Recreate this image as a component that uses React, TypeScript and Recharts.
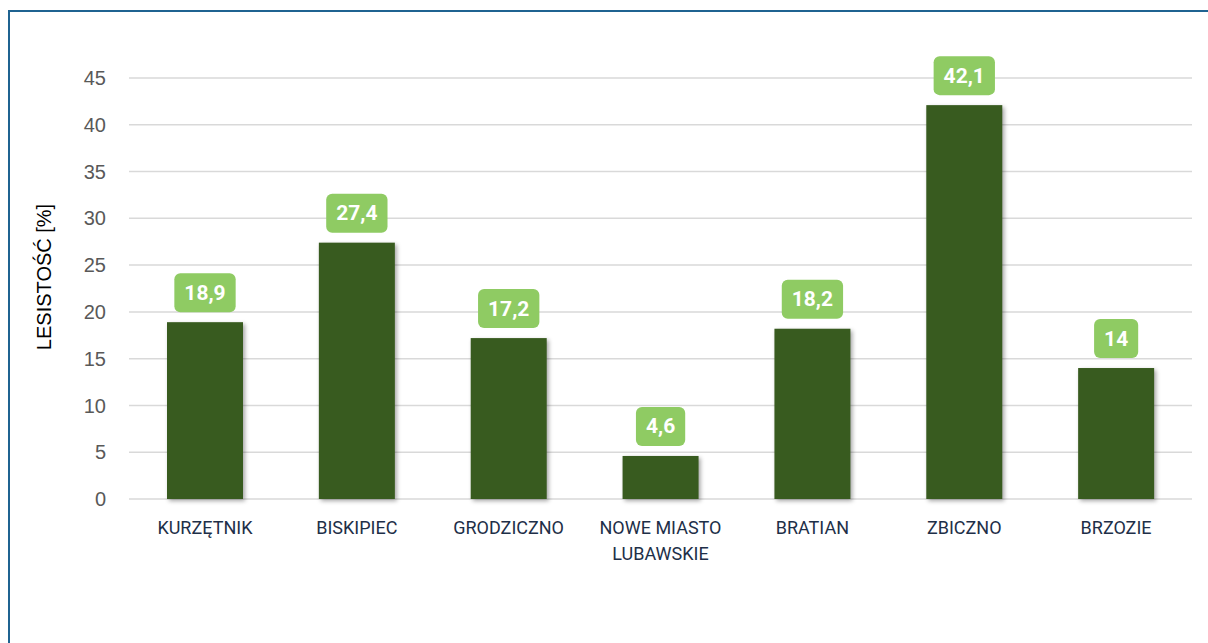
import React from 'react';
import { BarChart, Bar, XAxis, YAxis, CartesianGrid, LabelList } from 'recharts';

const categories = ['KURZĘTNIK', 'BISKIPIEC', 'GRODZICZNO', 'NOWE MIASTO LUBAWSKIE', 'BRATIAN', 'ZBICZNO', 'BRZOZIE'];
const values = [18.9, 27.4, 17.2, 4.6, 18.2, 42.1, 14];
const yTicks = [0, 5, 10, 15, 20, 25, 30, 35, 40, 45];
const yTitle = 'LESISTOŚĆ [%]';

const data = categories.map((name, i) => ({ name, value: values[i] }));

const LABEL_FONT = 'bold 21px Roboto';
let ctx: CanvasRenderingContext2D | null = null;
function measure(text: string): number {
  if (!ctx) {
    const c = document.createElement('canvas');
    ctx = c.getContext('2d');
  }
  if (!ctx) return text.length * 11;
  ctx.font = LABEL_FONT;
  return ctx.measureText(text).width;
}

const fmt = (v: number) => String(v).replace('.', ',');

const BarShape = (props: any) => {
  const { x, y, width, height } = props;
  return (
    <rect
      x={x}
      y={y}
      width={width}
      height={height}
      fill="#385b1f"
      style={{ filter: 'drop-shadow(2px 2px 2px rgba(0,0,0,0.35))' }}
    />
  );
};

const ValueLabel = (props: any) => {
  const { x, y, width, value } = props;
  const text = fmt(Number(value));
  const tw = measure(text);
  const bw = tw + 20;
  const bh = 39;
  const cx = Number(x) + Number(width) / 2;
  const cy = Number(y) - 29.5;
  return (
    <g>
      <rect x={cx - bw / 2} y={cy - bh / 2} width={bw} height={bh} rx={6} ry={6} fill="#8fcb63" />
      <text
        x={cx}
        y={cy}
        textAnchor="middle"
        dominantBaseline="central"
        fill="#ffffff"
        style={{ font: LABEL_FONT }}
      >
        {text}
      </text>
    </g>
  );
};

function wrap(s: string, max = 12): string[] {
  const words = s.split(' ');
  const lines: string[] = [];
  let cur = '';
  for (const w of words) {
    if (!cur) cur = w;
    else if ((cur + ' ' + w).length <= max) cur = cur + ' ' + w;
    else {
      lines.push(cur);
      cur = w;
    }
  }
  if (cur) lines.push(cur);
  return lines;
}

const XTick = (props: any) => {
  const { x, y, payload } = props;
  const lines = wrap(String(payload.value));
  return (
    <g>
      {lines.map((l, i) => (
        <text
          key={i}
          x={x}
          y={Number(y) + 28 + i * 26}
          textAnchor="middle"
          dominantBaseline="central"
          fill="#1e2f48"
          style={{ fontFamily: 'Roboto', fontSize: 18 }}
        >
          {l}
        </text>
      ))}
    </g>
  );
};

const YTitle = () => (
  <text
    x={34}
    y={265}
    transform="rotate(-90 34 265)"
    textAnchor="middle"
    dominantBaseline="central"
    fill="#000000"
    style={{ fontFamily: 'Liberation Sans', fontSize: 20 }}
  >
    {yTitle}
  </text>
);

export default function App() {
  return (
    <div
      style={{
        position: 'fixed',
        left: 8,
        top: 10,
        width: 1200,
        height: 633,
        borderTop: '2px solid #1f6391',
        borderLeft: '2px solid #1f6391',
        background: '#fff',
        boxSizing: 'border-box',
        overflow: 'hidden',
      }}
    >
      <BarChart
        width={1198}
        height={630}
        data={data}
        margin={{ top: 66, right: 16, bottom: 83, left: 0 }}
      >
        <CartesianGrid vertical={false} stroke="#d9d9d9" strokeWidth={1.5} />
        <XAxis
          dataKey="name"
          axisLine={false}
          tickLine={false}
          tickSize={0}
          tickMargin={0}
          height={60}
          interval={0}
          tick={<XTick />}
        />
        <YAxis
          width={119}
          domain={[0, 45]}
          ticks={yTicks}
          axisLine={false}
          tickLine={false}
          tickSize={0}
          tickMargin={23}
          tick={{ fill: '#595959', fontSize: 20, fontFamily: 'Liberation Sans' }}
          label={{ content: () => <YTitle /> }}
        />
        <Bar dataKey="value" barSize={76} shape={<BarShape />} isAnimationActive={false}>
          <LabelList dataKey="value" content={<ValueLabel />} />
        </Bar>
      </BarChart>
    </div>
  );
}
